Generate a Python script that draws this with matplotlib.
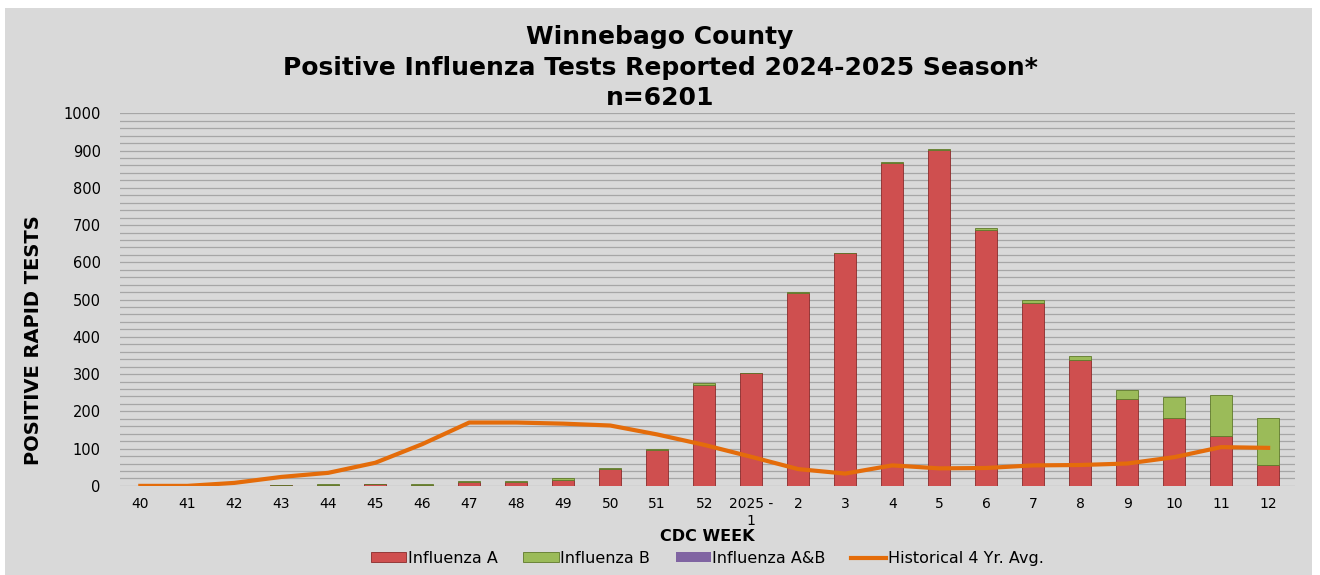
import numpy as np
import matplotlib.pyplot as plt
from matplotlib.patches import Rectangle
from matplotlib.ticker import MultipleLocator

weeks = ['40', '41', '42', '43', '44', '45', '46', '47', '48', '49', '50', '51', '52',
         '2025 -\n1', '2', '3', '4', '5', '6', '7', '8', '9', '10', '11', '12']
flu_a = [0, 0, 1, 2, 3, 5, 3, 10, 10, 17, 46, 97, 272, 302, 518, 624, 866, 901, 688,
         490, 338, 232, 183, 133, 56]
flu_b = [0, 0, 0, 1, 1, 0, 1, 3, 2, 4, 1, 2, 5, 2, 3, 2, 3, 3, 4, 8, 11, 25, 55, 110, 127]
flu_ab = [0] * 25
hist_avg = [0, 0, 8, 24, 35, 62, 112, 170, 170, 167, 162, 138, 110, 78, 45, 33, 55, 47,
            48, 55, 56, 60, 77, 104, 102]

bg = '#d9d9d9'
fig = plt.figure(figsize=(13.2, 5.75), dpi=100, facecolor=bg)
# white strips round the grey chart area
fig.patches.append(Rectangle((0, 0.986), 1, 0.02, transform=fig.transFigure,
                             facecolor='white', edgecolor='none'))
fig.patches.append(Rectangle((0, 0), 0.004, 1, transform=fig.transFigure,
                             facecolor='white', edgecolor='none'))
fig.patches.append(Rectangle((0.994, 0), 0.01, 1, transform=fig.transFigure,
                             facecolor='white', edgecolor='none'))
ax = fig.add_axes([0.091, 0.155, 0.89, 0.648])
ax.set_facecolor(bg)

x = np.arange(len(weeks))
a = np.array(flu_a)
b = np.array(flu_b)
w = 0.46
ba = ax.bar(x, a, w, color='#cf4f4f', edgecolor='#8b2a2a', linewidth=0.6, label='Influenza A', zorder=3)
bb = ax.bar(x, b, w, bottom=a, color='#9bbb59', edgecolor='#5f7a2a', linewidth=0.6,
            label='Influenza B', zorder=3)
bab = ax.bar(x, flu_ab, w, bottom=a + b, color='#8064a2', edgecolor='#5b4578', linewidth=0,
             label='Influenza A&B', zorder=3)
ln, = ax.plot(x, hist_avg, color='#e46c0a', linewidth=3, label='Historical 4 Yr. Avg.', zorder=4)

ax.set_ylim(0, 1000)
ax.set_xlim(-0.43, len(weeks) - 0.43)
ax.yaxis.set_major_locator(MultipleLocator(100))
ax.yaxis.set_minor_locator(MultipleLocator(20))
ax.grid(which='both', axis='y', color='#a6a6a6', linewidth=0.9, zorder=0)
ax.set_xticks(x)
ax.set_xticklabels(weeks, fontsize=10, family='DejaVu Sans', linespacing=1.25)
for t in ax.get_yticklabels():
    t.set_family('DejaVu Sans')
    t.set_fontsize(10.5)
ax.tick_params(which='both', length=0, pad=14)
ax.tick_params(axis='x', pad=8)
for s in ax.spines.values():
    s.set_visible(False)

ax.set_xlabel('CDC WEEK', fontsize=11.5, fontweight='bold', family='DejaVu Sans', labelpad=1)
ax.set_ylabel('POSITIVE RAPID TESTS', fontsize=14, fontweight='bold', family='DejaVu Sans')
ax.yaxis.set_label_coords(-0.066, 0.39)

fig.text(0.5, 0.935, 'Winnebago County', ha='center', va='center', fontsize=18,
         fontweight='bold', family='DejaVu Sans')
fig.text(0.5, 0.882, 'Positive Influenza Tests Reported 2024-2025 Season*', ha='center',
         va='center', fontsize=18, fontweight='bold', family='DejaVu Sans')
fig.text(0.5, 0.83, 'n=6201', ha='center', va='center', fontsize=18, fontweight='bold',
         family='DejaVu Sans')

ax.legend([ba, bb, bab, ln], ['Influenza A', 'Influenza B', 'Influenza A&B', 'Historical 4 Yr. Avg.'],
          loc='center', bbox_to_anchor=(0.5, -0.195), ncol=4, frameon=False,
          prop={'family': 'DejaVu Sans', 'size': 11.5}, handlelength=2.2, handleheight=0.6,
          handletextpad=0.1, columnspacing=1.6)

fig.savefig('out.png', dpi=100, facecolor=bg)
